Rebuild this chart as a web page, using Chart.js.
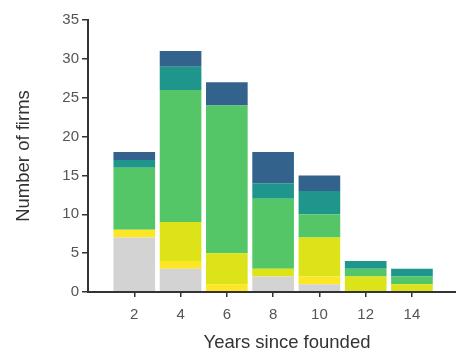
<!DOCTYPE html>
<html>
<head>
<meta charset="utf-8">
<script src="https://cdn.jsdelivr.net/npm/chart.js@4"></script>
<style>
  html, body { margin:0; padding:0; background:#fff; overflow:hidden; width:456px; height:354px; }
  #wrap { width:456px; height:354px; overflow:hidden; position:relative; }
  #c { position:absolute; left:0; top:0; }
</style>
</head>
<body>
<div id="wrap"><canvas id="c" width="490" height="354" style="width:490px;height:354px"></canvas></div>
<script>
// years since founded (bar centres)
const years = [2, 4, 6, 8, 10, 12, 14];

// stacked counts, bottom to top
const grey   = [7, 3, 0, 2, 1, 0, 0];
const yellow = [1, 1, 1, 0, 1, 0, 0];
const lime   = [0, 5, 4, 1, 5, 2, 1];
const green  = [8, 17, 19, 9, 3, 1, 1];
const teal   = [1, 3, 0, 2, 3, 1, 1];
const blue   = [1, 2, 3, 4, 2, 0, 0];

const yTicks = [0, 5, 10, 15, 20, 25, 30, 35];
const xMax = 17.2;

const series = [
  { name: "grey",   vals: grey,   color: "#d3d3d3" },
  { name: "yellow", vals: yellow, color: "#fde725" },
  { name: "lime",   vals: lime,   color: "#dce319" },
  { name: "green",  vals: green,  color: "#55c667" },
  { name: "teal",   vals: teal,   color: "#1f968b" },
  { name: "blue",   vals: blue,   color: "#33638d" }
];

const datasets = series.map(s => ({
  label: s.name,
  data: years.map((x, i) => ({ x, y: s.vals[i] })),
  backgroundColor: s.color,
  borderWidth: 0,
  categoryPercentage: 1,
  barPercentage: 0.9
}));

const txt = "#555";
const axisCol = "#333";
const font = "Liberation Sans";

// x axis line, run all the way out to the right edge
const baseLine = {
  id: "baseLine",
  afterDraw(chart) {
    const { ctx, scales } = chart;
    const y0 = Math.round(scales.y.getPixelForValue(0));
    ctx.save();
    ctx.strokeStyle = axisCol;
    ctx.lineWidth = 2;
    ctx.beginPath();
    ctx.moveTo(scales.x.left - 1, y0);
    ctx.lineTo(chart.width, y0);
    ctx.stroke();
    ctx.restore();
  }
};

// canvas is a bit wider than the window: the original plot is cut off on the right
new Chart(document.getElementById("c"), {
  type: "bar",
  data: { datasets },
  plugins: [baseLine],
  options: {
    responsive: false,
    animation: false,
    layout: { padding: { top: 20, right: 4, left: 0, bottom: 0 } },
    plugins: { legend: { display: false }, tooltip: { enabled: false } },
    scales: {
      x: {
        type: "linear",
        stacked: true,
        offset: false,
        min: 0,
        max: xMax,
        afterBuildTicks: a => { a.ticks = years.map(v => ({ value: v })); },
        ticks: { color: txt, font: { family: font, size: 15 }, padding: 9 },
        grid: { offset: false, drawOnChartArea: false, drawTicks: true, tickLength: 5, lineWidth: 1.5, color: axisCol },
        border: { display: false },
        title: { display: true, text: "Years since founded", color: "#333",
                 font: { family: font, size: 18.5 }, padding: { top: 6, bottom: 0 } },
        afterFit: s => { s.height = 62; }
      },
      y: {
        stacked: true,
        min: 0,
        max: 35,
        afterBuildTicks: a => { a.ticks = yTicks.map(v => ({ value: v })); },
        ticks: { color: txt, font: { family: font, size: 15 }, padding: 3 },
        grid: { offset: false, drawOnChartArea: false, drawTicks: true, tickLength: 6, color: axisCol, lineWidth: 1.5 },
        border: { display: true, color: axisCol, width: 2 },
        title: { display: true, text: "Number of firms", color: "#333",
                 font: { family: font, size: 18.5 }, padding: { top: 13, bottom: 0 } },
        afterFit: s => { s.width = 88; }
      }
    }
  }
});
</script>
</body>
</html>
